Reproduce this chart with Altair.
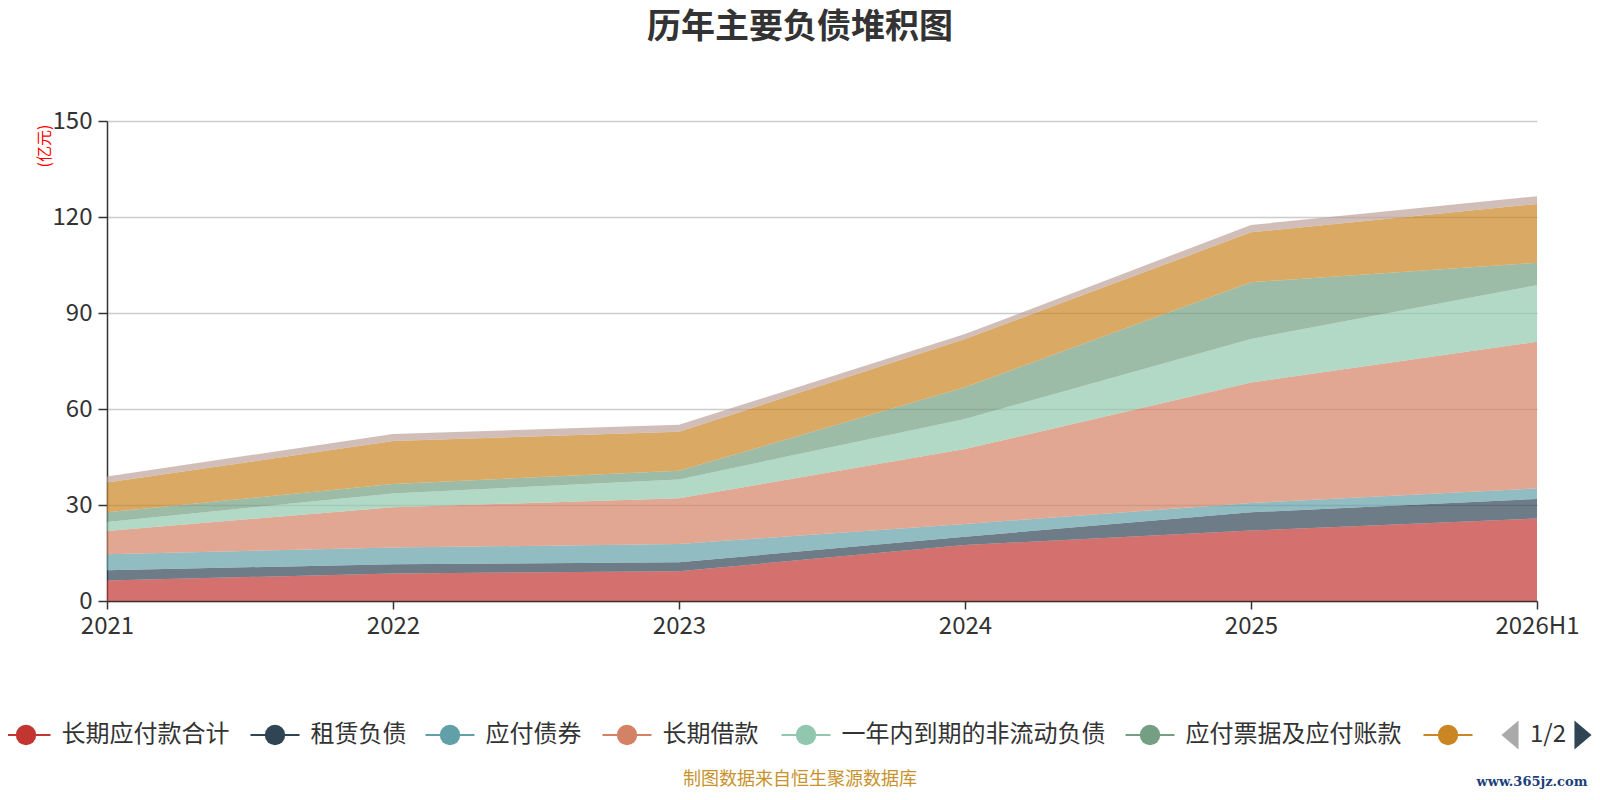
import altair as alt
import pandas as pd

TITLE = "历年主要负债堆积图"
Y_UNIT = "(亿元)"
FOOTER = "制图数据来自恒生聚源数据库"
WATERMARK = "www.365jz.com"
PAGER = "1/2"

YEARS = ["2021", "2022", "2023", "2024", "2025", "2026H1"]
SERIES = ["长期应付款合计", "租赁负债", "应付债券", "长期借款",
          "一年内到期的非流动负债", "应付票据及应付账款", "短期借款", "合同负债"]
COLORS = ["#c23531", "#2f4554", "#61a0a8", "#d48265",
          "#91c7ae", "#749f83", "#ca8622", "#bda29a"]

S1 = [6.4, 8.6, 9.3, 17.5, 22.0, 25.8]
S2 = [3.2, 2.9, 2.8, 2.6, 5.7, 6.1]
S3 = [5.0, 5.2, 5.7, 4.0, 2.9, 3.3]
S4 = [7.3, 12.6, 14.3, 23.4, 37.7, 45.8]
S5 = [2.8, 4.3, 5.9, 9.4, 13.6, 17.7]
S6 = [3.0, 3.0, 2.7, 9.9, 17.7, 7.0]
S7 = [9.3, 13.4, 12.2, 15.1, 15.6, 18.4]
S8 = [1.9, 2.2, 2.2, 1.5, 2.3, 2.4]
VALUES = [S1, S2, S3, S4, S5, S6, S7, S8]

Y_TICKS = [0, 30, 60, 90, 120, 150]

# legend shown on page 1 (7 symbols, 6 labels visible)
LEGEND_N = 7
LEGEND_LABELED = 6

# ---- layout (pixels, relative to plot origin) ----
W, H = 1430, 480
PAD_L, PAD_T = 99, 113
CANVAS_W, CANVAS_H = 1584, 784
LEGEND_CX = [c - 107 for c in [26, 275, 450, 627, 806, 1150, 1448]]
LEGEND_Y = 614
FONT = "Noto Sans CJK SC"

rows = []
for i, (name, vals) in enumerate(zip(SERIES, VALUES)):
    for y, v in zip(YEARS, vals):
        rows.append({"year": y, "series": name, "value": v, "idx": i})
df = pd.DataFrame(rows)

color_scale = alt.Scale(domain=SERIES, range=COLORS)

area = alt.Chart(df).mark_area(opacity=0.7, interpolate="linear").encode(
    x=alt.X("year:O", sort=YEARS, scale=alt.Scale(type="point", padding=0),
            axis=alt.Axis(title=None, labelAngle=0, labelFontSize=24, labelColor="#333",
                          labelFont=FONT, labelPadding=5, tickSize=8, tickColor="#333",
                          domainColor="#333", domainWidth=1.5, tickWidth=1.5,
                          grid=False, labelOverlap=False)),
    y=alt.Y("value:Q", stack="zero", scale=alt.Scale(domain=[0, 150], nice=False),
            axis=alt.Axis(title=None, values=Y_TICKS, labelFontSize=24, labelColor="#333",
                          labelFont=FONT, labelPadding=6, tickSize=9, tickColor="#333",
                          domainColor="#333", domainWidth=1.5, tickWidth=1.5,
                          gridColor="#cccccc", gridWidth=1.5)),
    color=alt.Color("series:N", scale=color_scale, legend=None),
    order=alt.Order("idx:Q", sort="ascending"),
)

leg = pd.DataFrame({
    "series": SERIES[:LEGEND_N],
    "cx": LEGEND_CX,
})
leg["x0"] = leg["cx"] - 24.5
leg["x1"] = leg["cx"] + 24.5
leg["tx"] = leg["cx"] + 35.5
leg_lab = leg.iloc[:LEGEND_LABELED]

leg_rule = alt.Chart(leg).mark_rule(strokeWidth=2).encode(
    x=alt.X("x0:Q", scale=None, axis=None), x2="x1:Q",
    y=alt.value(LEGEND_Y),
    color=alt.Color("series:N", scale=color_scale, legend=None),
)
leg_pt = alt.Chart(leg).mark_point(shape="circle", filled=True, size=415, opacity=1).encode(
    x=alt.X("cx:Q", scale=None, axis=None),
    y=alt.value(LEGEND_Y),
    color=alt.Color("series:N", scale=color_scale, legend=None),
)
leg_txt = alt.Chart(leg_lab).mark_text(align="left", baseline="middle", fontSize=24,
                                        font=FONT, color="#333").encode(
    x=alt.X("tx:Q", scale=None, axis=None),
    y=alt.value(LEGEND_Y),
    text="series:N",
)

one = pd.DataFrame({"t": [0]})
tri_l = alt.Chart(one).mark_point(shape="M0.59,-1L-0.59,0L0.59,1Z", filled=True, size=841,
                                  color="#aaaaaa", opacity=1).encode(
    x=alt.value(1403), y=alt.value(LEGEND_Y))
tri_r = alt.Chart(one).mark_point(shape="M-0.59,-1L0.59,0L-0.59,1Z", filled=True, size=841,
                                  color="#2f4554", opacity=1).encode(
    x=alt.value(1476), y=alt.value(LEGEND_Y))


def label(text, x, y, **kw):
    return alt.Chart(pd.DataFrame({"t": [text]})).mark_text(baseline="middle", **kw).encode(
        x=alt.value(x), y=alt.value(y), text="t:N")


pager = label(PAGER, 1441, LEGEND_Y, fontSize=24, font=FONT, color="#333", align="center")
title = label(TITLE, 693, -93, fontSize=34, font=FONT, fontWeight="bold", color="#333",
              align="center")
yunit = label(Y_UNIT, -62, 25, fontSize=16, font=FONT, color="#ff0000", align="center",
              angle=270)
footer = label(FOOTER, 693, 659, fontSize=18, font=FONT, color="#c8922b", align="center")
wm = label(WATERMARK, 1425, 661, fontSize=13, font="DejaVu Serif", fontWeight="bold",
           color="#1c3f7a", align="center")

chart = alt.layer(area, leg_rule, leg_pt, leg_txt, tri_l, tri_r, pager, title, yunit,
                  footer, wm).resolve_scale(x="independent", y="independent").properties(
    width=W, height=H,
    autosize=alt.AutoSizeParams(type="none"),
    padding={"left": PAD_L, "top": PAD_T, "right": CANVAS_W - PAD_L - W,
             "bottom": CANVAS_H - PAD_T - H},
).configure_view(stroke=None)

chart.save("out.html", embed_options={"renderer": "svg", "actions": False})
